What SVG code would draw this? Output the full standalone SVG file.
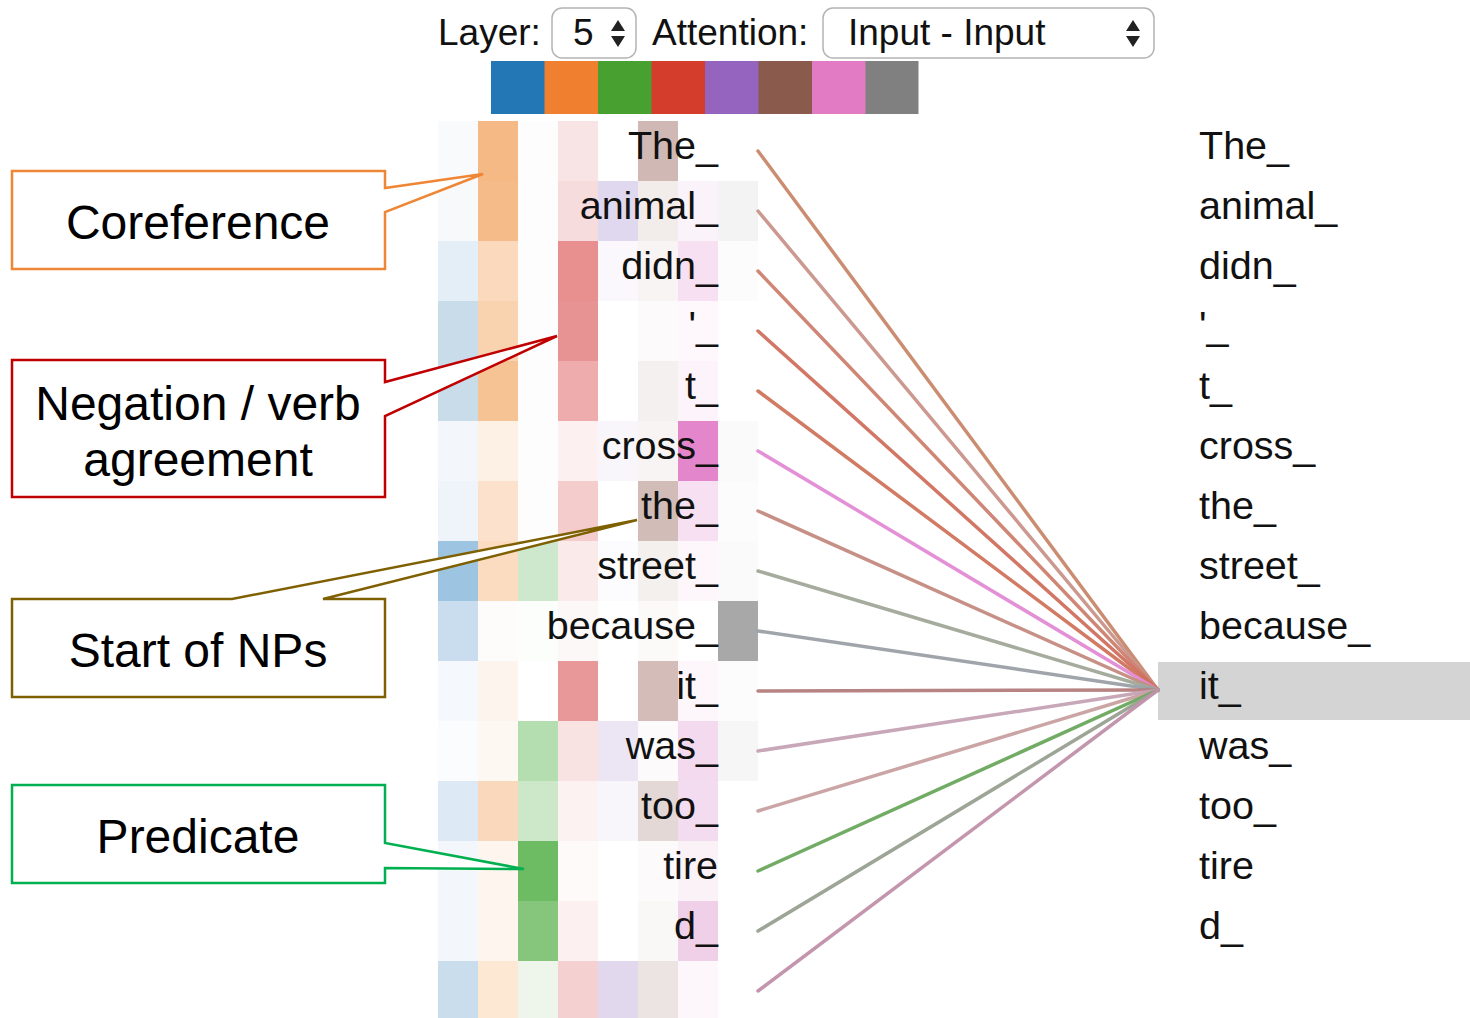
<svg xmlns="http://www.w3.org/2000/svg" width="1470" height="1018" viewBox="0 0 1470 1018">
  <style>
    .ui { font-family: "Liberation Sans", Arial, Helvetica, sans-serif; fill: #111; }
    .hdr { font-size: 37px; }
    .tok { font-size: 39.5px; }
    .tokL { text-anchor: end; }
    .sel { fill: #ffffff; stroke: #b4b4b4; stroke-width: 1.5; }
    .spin { fill: #222; }
    .call { fill: #ffffff; stroke-width: 2.5; stroke-linejoin: miter; }
    .callTxt { font-family: "Liberation Sans", Arial, Helvetica, sans-serif; font-size: 48px; fill: #000; text-anchor: middle; }
    .link { fill: none; stroke-width: 3.5; stroke-linecap: round; opacity: 0.95; }
  </style>

  <rect x="0" y="0" width="1470" height="1018" fill="#ffffff"/>

  <!-- controls -->
  <g id="controls">
    <text class="ui hdr" x="438" y="45">Layer:</text>
    <rect class="sel" x="552" y="8" width="84" height="50" rx="10"/>
    <text class="ui hdr" x="573" y="45">5</text>
    <path class="spin" d="M611,31 L618,20 L625,31 Z M611,36 L618,47 L625,36 Z"/>
    <text class="ui hdr" x="652" y="45">Attention:</text>
    <rect class="sel" x="823" y="8" width="331" height="50" rx="10"/>
    <text class="ui hdr" x="848" y="45">Input - Input</text>
    <path class="spin" d="M1126,31 L1133,20 L1140,31 Z M1126,36 L1133,47 L1140,36 Z"/>
  </g>

  <!-- attention head colour legend -->
  <g id="heads">
    <rect x="491" y="61" width="54" height="53" fill="#2377b4"/>
    <rect x="544.5" y="61" width="54" height="53" fill="#f08030"/>
    <rect x="598" y="61" width="54" height="53" fill="#48a030"/>
    <rect x="651.5" y="61" width="54" height="53" fill="#d43c2c"/>
    <rect x="705" y="61" width="54" height="53" fill="#9464bf"/>
    <rect x="758.5" y="61" width="54" height="53" fill="#8a5a4c"/>
    <rect x="812" y="61" width="54" height="53" fill="#e37ac4"/>
    <rect x="865.5" y="61" width="53" height="53" fill="#808080"/>
  </g>

  <!-- per-head attention heatmap, 8 columns x 15 rows of 40x60 cells -->
  <g id="heatmap">
    <!-- head 0 (blue) -->
    <g>
      <rect x="438" y="121" width="40" height="60" fill="#f8fafc"/>
      <rect x="438" y="181" width="40" height="60" fill="#f7f9fb"/>
      <rect x="438" y="241" width="40" height="60" fill="#e3eef6"/>
      <rect x="438" y="301" width="40" height="60" fill="#c8dcea"/>
      <rect x="438" y="361" width="40" height="60" fill="#c8dcea"/>
      <rect x="438" y="421" width="40" height="60" fill="#f3f7fb"/>
      <rect x="438" y="481" width="40" height="60" fill="#eef4f9"/>
      <rect x="438" y="541" width="40" height="60" fill="#9dc4e0"/>
      <rect x="438" y="601" width="40" height="60" fill="#c9ddee"/>
      <rect x="438" y="661" width="40" height="60" fill="#f5f8fc"/>
      <rect x="438" y="721" width="40" height="60" fill="#fafcfd"/>
      <rect x="438" y="781" width="40" height="60" fill="#dde9f4"/>
      <rect x="438" y="841" width="40" height="60" fill="#f3f7fb"/>
      <rect x="438" y="901" width="40" height="60" fill="#f3f7fb"/>
      <rect x="438" y="961" width="40" height="57" fill="#c9ddec"/>
    </g>
    <!-- head 1 (orange) -->
    <g>
      <rect x="478" y="121" width="40" height="60" fill="#f5b986"/>
      <rect x="478" y="181" width="40" height="60" fill="#f5bb88"/>
      <rect x="478" y="241" width="40" height="60" fill="#fad9bc"/>
      <rect x="478" y="301" width="40" height="60" fill="#f9d2b0"/>
      <rect x="478" y="361" width="40" height="60" fill="#f6c494"/>
      <rect x="478" y="421" width="40" height="60" fill="#fdf0e4"/>
      <rect x="478" y="481" width="40" height="60" fill="#fce2cc"/>
      <rect x="478" y="541" width="40" height="60" fill="#fcdcc0"/>
      <rect x="478" y="601" width="40" height="60" fill="#fefcfa"/>
      <rect x="478" y="661" width="40" height="60" fill="#fef4ee"/>
      <rect x="478" y="721" width="40" height="60" fill="#fef8f2"/>
      <rect x="478" y="781" width="40" height="60" fill="#fad8bc"/>
      <rect x="478" y="841" width="40" height="60" fill="#fef6ee"/>
      <rect x="478" y="901" width="40" height="60" fill="#fef6ee"/>
      <rect x="478" y="961" width="40" height="57" fill="#fde8d4"/>
    </g>
    <!-- head 2 (green) -->
    <g>
      <rect x="518" y="121" width="40" height="420" fill="#fcfdfc"/>
      <rect x="518" y="541" width="40" height="60" fill="#cde8cc"/>
      <rect x="518" y="601" width="40" height="60" fill="#fcfefc"/>
      <rect x="518" y="721" width="40" height="60" fill="#b5deb0"/>
      <rect x="518" y="781" width="40" height="60" fill="#cce8c8"/>
      <rect x="518" y="841" width="40" height="60" fill="#6dbb62"/>
      <rect x="518" y="901" width="40" height="60" fill="#85c67c"/>
      <rect x="518" y="961" width="40" height="57" fill="#eef6ec"/>
    </g>
    <!-- head 3 (red) -->
    <g>
      <rect x="558" y="121" width="40" height="60" fill="#f8e4e4"/>
      <rect x="558" y="181" width="40" height="60" fill="#f6dcdc"/>
      <rect x="558" y="241" width="40" height="60" fill="#e89090"/>
      <rect x="558" y="301" width="40" height="60" fill="#e89393"/>
      <rect x="558" y="361" width="40" height="60" fill="#eeacac"/>
      <rect x="558" y="421" width="40" height="60" fill="#fcf0f0"/>
      <rect x="558" y="481" width="40" height="60" fill="#f4cccc"/>
      <rect x="558" y="541" width="40" height="60" fill="#fbeaea"/>
      <rect x="558" y="601" width="40" height="60" fill="#fdf8f8"/>
      <rect x="558" y="661" width="40" height="60" fill="#e89898"/>
      <rect x="558" y="721" width="40" height="60" fill="#f8e2e2"/>
      <rect x="558" y="781" width="40" height="60" fill="#fcf2f2"/>
      <rect x="558" y="841" width="40" height="60" fill="#fefafa"/>
      <rect x="558" y="901" width="40" height="60" fill="#fcf0f0"/>
      <rect x="558" y="961" width="40" height="57" fill="#f4d0d0"/>
    </g>
    <!-- head 4 (purple) -->
    <g>
      <rect x="598" y="181" width="40" height="60" fill="#e0d8ee"/>
      <rect x="598" y="241" width="40" height="60" fill="#faf8fc"/>
      <rect x="598" y="421" width="40" height="60" fill="#f8f6fa"/>
      <rect x="598" y="541" width="40" height="60" fill="#fcfbfd"/>
      <rect x="598" y="721" width="40" height="60" fill="#ece6f4"/>
      <rect x="598" y="781" width="40" height="60" fill="#f8f6fa"/>
      <rect x="598" y="961" width="40" height="57" fill="#e2d8ee"/>
    </g>
    <!-- head 5 (brown) -->
    <g>
      <rect x="638" y="121" width="40" height="60" fill="#d0b8b4"/>
      <rect x="638" y="181" width="40" height="60" fill="#f2ecea"/>
      <rect x="638" y="241" width="40" height="60" fill="#f8f4f4"/>
      <rect x="638" y="301" width="40" height="60" fill="#fcfafa"/>
      <rect x="638" y="361" width="40" height="60" fill="#f4f0f0"/>
      <rect x="638" y="421" width="40" height="60" fill="#f8f4f4"/>
      <rect x="638" y="481" width="40" height="60" fill="#d2bcb8"/>
      <rect x="638" y="541" width="40" height="60" fill="#f4f0ee"/>
      <rect x="638" y="601" width="40" height="60" fill="#fcfaf8"/>
      <rect x="638" y="661" width="40" height="60" fill="#d4bcb8"/>
      <rect x="638" y="721" width="40" height="60" fill="#fcfafa"/>
      <rect x="638" y="781" width="40" height="60" fill="#e4d8d6"/>
      <rect x="638" y="841" width="40" height="60" fill="#fcfafa"/>
      <rect x="638" y="901" width="40" height="60" fill="#faf8f6"/>
      <rect x="638" y="961" width="40" height="57" fill="#ece4e2"/>
    </g>
    <!-- head 6 (pink) -->
    <g>
      <rect x="678" y="181" width="40" height="60" fill="#fbf3fa"/>
      <rect x="678" y="241" width="40" height="60" fill="#f6e0f2"/>
      <rect x="678" y="301" width="40" height="60" fill="#fef8fd"/>
      <rect x="678" y="361" width="40" height="60" fill="#fcf4fa"/>
      <rect x="678" y="421" width="40" height="60" fill="#e486cc"/>
      <rect x="678" y="481" width="40" height="60" fill="#f6e0f2"/>
      <rect x="678" y="541" width="40" height="60" fill="#fdf6fb"/>
      <rect x="678" y="661" width="40" height="60" fill="#fdf6fb"/>
      <rect x="678" y="721" width="40" height="60" fill="#f4daee"/>
      <rect x="678" y="781" width="40" height="60" fill="#f4dcf0"/>
      <rect x="678" y="841" width="40" height="60" fill="#fbf2f8"/>
      <rect x="678" y="901" width="40" height="60" fill="#f0d0e8"/>
      <rect x="678" y="961" width="40" height="57" fill="#fdf6fb"/>
    </g>
    <!-- head 7 (grey) -->
    <g>
      <rect x="718" y="181" width="40" height="60" fill="#f3f3f3"/>
      <rect x="718" y="241" width="40" height="60" fill="#fcfcfc"/>
      <rect x="718" y="421" width="40" height="60" fill="#fafafa"/>
      <rect x="718" y="481" width="40" height="60" fill="#fcfcfc"/>
      <rect x="718" y="541" width="40" height="60" fill="#fafafa"/>
      <rect x="718" y="601" width="40" height="60" fill="#a8a8a8"/>
      <rect x="718" y="661" width="40" height="60" fill="#fcfcfc"/>
      <rect x="718" y="721" width="40" height="60" fill="#f6f6f6"/>
    </g>
  </g>

  <!-- source tokens -->
  <g id="tokens-left" class="ui tok tokL">
    <text x="718" y="159">The_</text>
    <text x="718" y="219">animal_</text>
    <text x="718" y="279">didn_</text>
    <text x="718" y="339">'_</text>
    <text x="718" y="399">t_</text>
    <text x="718" y="459">cross_</text>
    <text x="718" y="519">the_</text>
    <text x="718" y="579">street_</text>
    <text x="718" y="639">because_</text>
    <text x="718" y="699">it_</text>
    <text x="718" y="759">was_</text>
    <text x="718" y="819">too_</text>
    <text x="718" y="879">tire</text>
    <text x="718" y="939">d_</text>
  </g>

  <!-- selected target token -->
  <rect id="focus" x="1158" y="662" width="312" height="58" fill="#d4d4d4"/>

  <!-- target tokens -->
  <g id="tokens-right" class="ui tok">
    <text x="1199" y="159">The_</text>
    <text x="1199" y="219">animal_</text>
    <text x="1199" y="279">didn_</text>
    <text x="1199" y="339">'_</text>
    <text x="1199" y="399">t_</text>
    <text x="1199" y="459">cross_</text>
    <text x="1199" y="519">the_</text>
    <text x="1199" y="579">street_</text>
    <text x="1199" y="639">because_</text>
    <text x="1199" y="699">it_</text>
    <text x="1199" y="759">was_</text>
    <text x="1199" y="819">too_</text>
    <text x="1199" y="879">tire</text>
    <text x="1199" y="939">d_</text>
  </g>

  <!-- attention links into "it_" -->
  <g id="connectors">
    <line class="link" x1="758" y1="151" x2="1158" y2="690" stroke="#c8876a"/>
    <line class="link" x1="758" y1="211" x2="1158" y2="690" stroke="#c8948a"/>
    <line class="link" x1="758" y1="271" x2="1158" y2="690" stroke="#cd7f6e"/>
    <line class="link" x1="758" y1="331" x2="1158" y2="690" stroke="#d0705e"/>
    <line class="link" x1="758" y1="391" x2="1158" y2="690" stroke="#cf735c"/>
    <line class="link" x1="758" y1="451" x2="1158" y2="690" stroke="#e18ad4"/>
    <line class="link" x1="758" y1="511" x2="1158" y2="690" stroke="#c48a80"/>
    <line class="link" x1="758" y1="571" x2="1158" y2="690" stroke="#a0a898"/>
    <line class="link" x1="758" y1="631" x2="1158" y2="690" stroke="#9ba0a8"/>
    <line class="link" x1="758" y1="691" x2="1158" y2="690" stroke="#b47c7c"/>
    <line class="link" x1="758" y1="751" x2="1158" y2="690" stroke="#c4a2b4"/>
    <line class="link" x1="758" y1="811" x2="1158" y2="690" stroke="#c8a0a0"/>
    <line class="link" x1="758" y1="871" x2="1158" y2="690" stroke="#6aa85c"/>
    <line class="link" x1="758" y1="931" x2="1158" y2="690" stroke="#98a090"/>
    <line class="link" x1="758" y1="991" x2="1158" y2="690" stroke="#c090aa"/>
  </g>

  <!-- annotation callouts -->
  <g id="callout-coreference">
    <path class="call" stroke="#ef8636" d="M12,171 H385 V188 L483,174 L385,212 V269 H12 Z"/>
    <text class="callTxt" x="198" y="239">Coreference</text>
  </g>
  <g id="callout-negation">
    <path class="call" stroke="#c00000" d="M12,360 H385 V382 L557,336 L385,416 V497 H12 Z"/>
    <text class="callTxt" x="198" y="420">Negation / verb</text>
    <text class="callTxt" x="198" y="476">agreement</text>
  </g>
  <g id="callout-nps">
    <path class="call" stroke="#7f6000" d="M12,599 H232 L637,520 L323,599 H385 V697 H12 Z"/>
    <text class="callTxt" x="198" y="667">Start of NPs</text>
  </g>
  <g id="callout-predicate">
    <path class="call" stroke="#00b050" d="M12,785 H385 V843 L524,869 L385,868 V883 H12 Z"/>
    <text class="callTxt" x="198" y="853">Predicate</text>
  </g>
</svg>
